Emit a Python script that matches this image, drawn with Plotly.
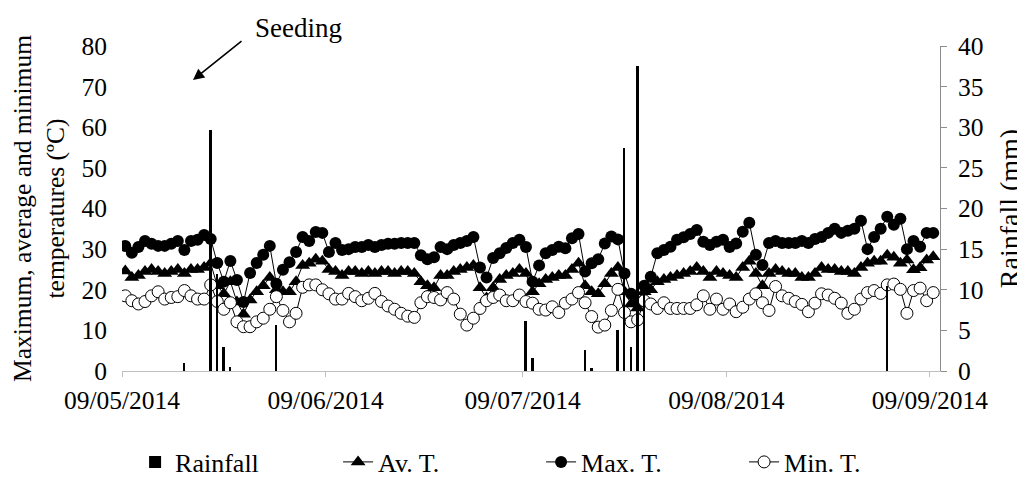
import pandas as pd
import plotly.graph_objects as go

# ---- data -----------------------------------------------------------
start_date = "2014-05-09"
max_t = [30.8, 29.1, 30.5, 32.0, 31.3, 30.8, 30.8, 31.3, 32.0, 29.8, 32.0, 32.3, 33.5, 32.5,
         26.6, 22.0, 27.1, 22.4, 17.0, 24.1, 26.6, 28.6, 30.8, 21.5, 24.9, 26.8, 29.3, 33.0,
         32.0, 34.2, 34.0, 29.3, 31.5, 29.8,
         30.0, 30.5, 30.5, 31.0, 30.5, 31.0, 31.3, 31.3, 31.5, 31.5, 31.5,
         28.5, 27.5, 28.0, 30.5, 30.0, 31.0, 31.5, 32.0, 33.0, 25.5, 23.0, 27.8, 29.0, 30.3,
         31.5, 32.3, 30.5, 22.0, 26.0,
         29.0, 29.8, 30.6, 30.2, 32.7, 33.7, 24.5, 26.5, 27.5, 31.4, 33.1, 32.4,
         24.0, 19.0, 17.0, 21.0,
         23.2, 29.0, 29.8, 30.6, 32.3, 32.9, 33.7, 34.7, 31.8, 31.0, 31.8, 32.3, 30.5, 31.4,
         34.3, 36.5, 28.6, 26.1,
         31.5, 32.0, 31.5, 31.5, 31.5, 32.0, 31.5, 32.5, 33.0, 34.0, 35.0, 34.0, 34.5, 35.0,
         37.0, 30.0, 33.0, 35.0, 38.0, 36.0, 37.5, 30.0, 32.0, 30.6, 34.0, 34.0]
av_t = [24.6, 23.0, 23.5, 24.5, 25.0, 24.5, 24.0, 24.5, 25.0, 24.0, 25.0, 25.0, 25.5, 26.5,
        21.0, 19.0, 22.0, 17.0, 14.0, 17.5, 19.5, 21.0, 23.0, 20.0, 19.5, 19.5, 22.0, 26.0,
        26.5, 27.5, 27.0, 25.0, 24.5, 23.5,
        24.5, 24.5, 24.0, 24.5, 24.0, 24.5, 24.5, 24.0, 24.5, 24.5, 24.0,
        22.0, 21.0, 20.5, 23.5, 23.5, 24.5, 25.0, 25.5, 26.0, 20.5, 18.0, 20.5, 22.5, 23.5,
        24.0, 25.0, 24.0, 19.5, 21.5,
        22.5, 23.0, 23.5, 23.5, 25.0, 26.5, 21.0, 19.5, 19.0, 21.5, 24.0, 25.5,
        19.5, 16.5, 15.5, 19.5,
        20.0, 22.0, 22.5, 23.0, 23.5, 24.0, 24.5, 25.5, 24.5, 23.0, 24.5, 24.0, 23.5, 23.0,
        25.5, 27.0, 24.0, 21.0,
        24.0, 25.0, 24.5, 24.0, 24.0, 23.0, 23.0, 24.0, 25.5, 25.0, 25.0, 24.5, 24.5, 24.0,
        25.5, 26.5, 27.0, 27.0, 28.5, 28.0, 26.5, 27.3, 24.9, 25.4, 27.3, 28.1]
min_t = [18.5, 17.3, 16.5, 17.1, 18.5, 19.5, 17.7, 18.1, 18.3, 19.8, 18.5, 17.7, 17.7, 21.2,
         17.1, 15.2, 16.8, 12.1, 10.9, 10.9, 12.1, 13.0, 15.2, 18.3, 14.9, 12.1, 14.2, 20.6,
         21.2, 21.2, 20.0, 19.0, 17.7,
         17.7, 19.1, 18.3, 17.3, 17.9, 19.1, 17.1, 16.0, 15.2, 14.2, 13.5, 13.2, 16.8, 18.3,
         18.1, 17.5, 19.3, 17.7, 14.0, 11.3, 13.0, 15.4, 17.3, 18.1, 18.7, 17.3, 17.3, 18.7,
         17.1, 16.7, 15.2, 15.0,
         15.8, 14.4, 16.7, 17.7, 19.3, 16.8, 13.4, 10.8, 11.3, 14.9, 20.1, 14.4, 12.1, 12.6,
         17.3, 16.5, 15.4, 16.8, 15.4, 15.4, 15.4, 15.4, 16.3, 18.5, 15.2, 17.7, 15.2, 16.5,
         14.6, 15.7, 17.7, 19.0, 16.8,
         14.9, 20.8, 18.5, 17.9, 17.1, 16.4, 14.6, 16.7, 19.0, 18.7, 17.9, 16.7, 14.2, 15.2,
         17.7, 19.3, 19.8, 19.1, 21.2, 21.4, 20.1, 14.2, 19.8, 20.4, 17.3, 19.3]
rain_dates = ["2014-05-18", "2014-05-22", "2014-05-23", "2014-05-24", "2014-05-25",
              "2014-06-01", "2014-07-09", "2014-07-10", "2014-07-18", "2014-07-19",
              "2014-07-23", "2014-07-24", "2014-07-25", "2014-07-26", "2014-07-27",
              "2014-09-02"]
rain_mm = [1.0, 29.7, 12.0, 3.0, 0.5, 5.7, 6.1, 1.6, 2.6, 0.4, 5.1, 27.4, 2.9, 37.5, 11.0, 10.5]
tick_dates = ["2014-05-09", "2014-06-09", "2014-07-09", "2014-08-09", "2014-09-09"]

# ---- figure ---------------------------------------------------------
days = pd.date_range(start_date + " 12:00", periods=len(max_t), freq="D")
rain_x = [pd.Timestamp(d) + pd.Timedelta(hours=12) for d in rain_dates]

FONT = "Liberation Serif"
fig = go.Figure()
fig.add_trace(go.Bar(x=rain_x, y=rain_mm, name="Rainfall", yaxis="y2",
                     marker=dict(color="black", line=dict(width=0)),
                     width=0.3 * 86400000))
fig.add_trace(go.Scatter(x=days, y=av_t, name="Av. T.", mode="lines+markers",
                         line=dict(color="black", width=1),
                         marker=dict(symbol="triangle-up", size=13, color="black")))
fig.add_trace(go.Scatter(x=days, y=max_t, name="Max. T.", mode="lines+markers",
                         line=dict(color="black", width=1),
                         marker=dict(symbol="circle", size=12, color="black")))
fig.add_trace(go.Scatter(x=days, y=min_t, name="Min. T.", mode="lines+markers",
                         line=dict(color="black", width=1),
                         marker=dict(symbol="circle", size=12, color="white",
                                     line=dict(color="black", width=1))))

# page has an 8px body margin: figure is 1017x475 and sits at (8, 8)
fig.update_layout(
    width=1017, height=475,
    margin=dict(l=114, r=85, t=38, b=112, autoexpand=False),
    paper_bgcolor="white", plot_bgcolor="white",
    font=dict(family=FONT, size=25, color="black"),
    showlegend=True,
    legend=dict(orientation="h", x=0.016, xanchor="left", y=-0.28, yanchor="middle",
                entrywidth=158, entrywidthmode="pixels",
                font=dict(family=FONT, size=26, color="black"),
                traceorder="normal"),
    xaxis=dict(type="date", range=["2014-05-09", "2014-09-10 12:45"],
               tickvals=tick_dates, tickformat="%d/%m/%Y",
               tickfont=dict(family=FONT, size=25.5, color="black"),
               showline=True, linecolor="#bfbfbf", linewidth=1,
               ticks="outside", ticklen=5, tickcolor="#bfbfbf", ticklabelstandoff=1,
               showgrid=False, zeroline=False, automargin=False),
    yaxis=dict(range=[0, 80], dtick=10, showgrid=False, zeroline=False,
               showline=False, ticks="", ticklabelstandoff=14, automargin=False,
               tickfont=dict(family=FONT, size=25.5, color="black"),
               title=dict(text="Maximum, average and minimum<br>temperatures (ºC)",
                          standoff=18, font=dict(family=FONT, size=25.5, color="black"))),
    yaxis2=dict(range=[0, 40], dtick=5, overlaying="y", side="right",
                showgrid=False, zeroline=False, showline=True, linecolor="#8c8c8c",
                ticks="outside", ticklen=6, tickcolor="#8c8c8c", ticklabelstandoff=6,
                automargin=False,
                tickfont=dict(family=FONT, size=25.5, color="black"),
                title=dict(text="Rainfall (mm)", standoff=20,
                           font=dict(family=FONT, size=28, color="black"))),
    bargap=0,
)

fig.add_annotation(xref="paper", yref="paper", x=(193 - 122) / 818, y=(371 - 80) / 325,
                   ax=50, ay=-40, text="", showarrow=True, arrowhead=2,
                   arrowsize=1.4, arrowwidth=1.6, arrowcolor="black")
fig.add_annotation(xref="paper", yref="paper", x=(298 - 122) / 818, y=(371 - 28) / 325,
                   text="Seeding", showarrow=False,
                   font=dict(family=FONT, size=27, color="black"),
                   xanchor="center", yanchor="middle")

fig.write_html("out.html")
